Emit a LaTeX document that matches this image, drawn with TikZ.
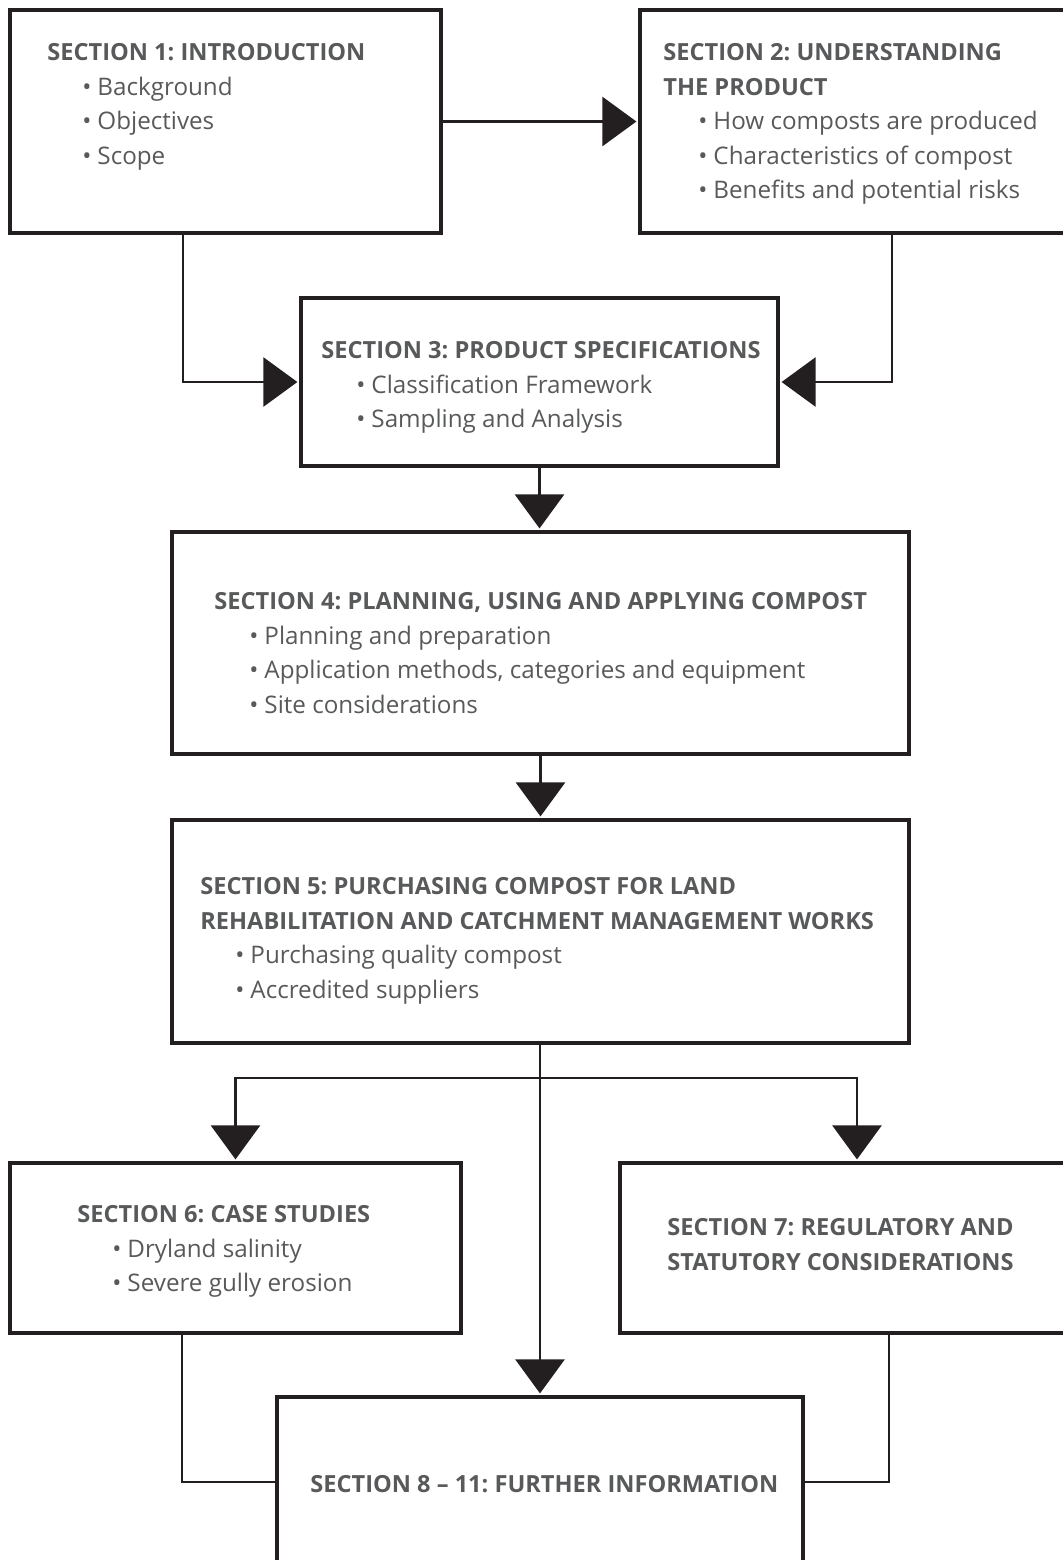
\documentclass[tikz,border=0pt]{standalone}
\usepackage{fontspec}
\setmainfont{Open Sans}
\usetikzlibrary{arrows.meta}
\definecolor{ink}{HTML}{231F20}
\definecolor{txt}{HTML}{58595B}
\newcommand{\ttl}[1]{{\fontsize{11.8}{17.25}\selectfont\bfseries #1}}
\newcommand{\bul}[1]{{\fontsize{12.1}{17.25}\selectfont\hspace*{17.5pt}\textbullet\hspace{3pt}#1}}
\begin{document}
\begin{tikzpicture}[x=0.5pt,y=-0.5pt,
  box/.style={draw=ink, line width=2pt, rectangle, inner sep=0pt},
  lbl/.style={anchor=north west, inner sep=0pt, align=left, text=txt,
    font=\fontsize{12}{17.25}\selectfont\frenchspacing},
  conn/.style={draw=ink, line width=1.3pt},
  arr/.style={conn, -{Triangle[length=17pt,width=24.5pt]}, shorten >=0.8pt}]
\useasboundingbox (0,0) rectangle (1063,1560);
\clip (0,0) rectangle (1063,1560);
% boxes
\node[box, minimum width=215.5pt, minimum height=111.5pt] (b1) at (225.5,121.5) {};
\node[box, minimum width=225pt, minimum height=111.5pt] (b2) at (865,121.5) {};
\node[box, minimum width=238.5pt, minimum height=84pt] (b3) at (539.5,382) {};
\node[box, minimum width=368.5pt, minimum height=111pt] (b4) at (540.5,643) {};
\node[box, minimum width=368.5pt, minimum height=111.5pt] (b5) at (540.5,931.5) {};
\node[box, minimum width=225.5pt, minimum height=85pt] (b6) at (235.5,1248) {};
\node[box, minimum width=237pt, minimum height=85pt] (b7) at (857,1248) {};
\node[box, minimum width=263pt, minimum height=85pt] (b8) at (540,1482) {};
% texts
\node[lbl] (t1) at (47,43) {\ttl{SECTION 1: INTRODUCTION}\\ \bul{Background}\\ \bul{Objectives}\\ \bul{Scope}};
\node[lbl] (t2) at (663,43) {\ttl{SECTION 2: UNDERSTANDING}\\ \ttl{THE PRODUCT}\\ \bul{How composts are produced}\\ \bul{Characteristics of compost}\\ \bul{Benefits and potential risks}};
\node[lbl] (t3) at (321,341) {\ttl{SECTION 3: PRODUCT SPECIFICATIONS}\\ \bul{Classification Framework}\\ \bul{Sampling and Analysis}};
\node[lbl] (t4) at (214,592) {\ttl{SECTION 4: PLANNING, USING AND APPLYING COMPOST}\\ \bul{Planning and preparation}\\ \bul{Application methods, categories and equipment}\\ \bul{Site considerations}};
\node[lbl] (t5) at (200,877) {\ttl{SECTION 5: PURCHASING COMPOST FOR LAND}\\ \ttl{REHABILITATION AND CATCHMENT MANAGEMENT WORKS}\\ \bul{Purchasing quality compost}\\ \bul{Accredited suppliers}};
\node[lbl] (t6) at (77,1205) {\ttl{SECTION 6: CASE STUDIES}\\ \bul{Dryland salinity}\\ \bul{Severe gully erosion}};
\node[lbl] (t7) at (667,1218) {\ttl{SECTION 7: REGULATORY AND}\\ \ttl{STATUTORY CONSIDERATIONS}};
\node[lbl] (t8) at (310,1475) {\ttl{SECTION 8 – 11: FURTHER INFORMATION}};
% connectors
\draw[arr] (b1.east) -- (b2.west);
\draw[arr] ([xshift=87.5pt]b1.south west) |- (b3.west);
\draw[arr] ([xshift=127pt]b2.south west) |- (b3.east);
\draw[arr] (b3.south) -- (b3.south |- b4.north);
\draw[arr] (b4.south) -- (b4.south |- b5.north);
\draw[arr] (b8.north |- b5.south) -- (b8.north);
\coordinate (br) at (540,1078);
\draw[arr] (br) -| (b6.north);
\draw[arr] (br) -| (b7.north);
\draw[conn] ([xshift=87pt]b6.south west) |- (b8.west);
\draw[conn] ([xshift=135.5pt]b7.south west) |- (b8.east);
\end{tikzpicture}
\end{document}
